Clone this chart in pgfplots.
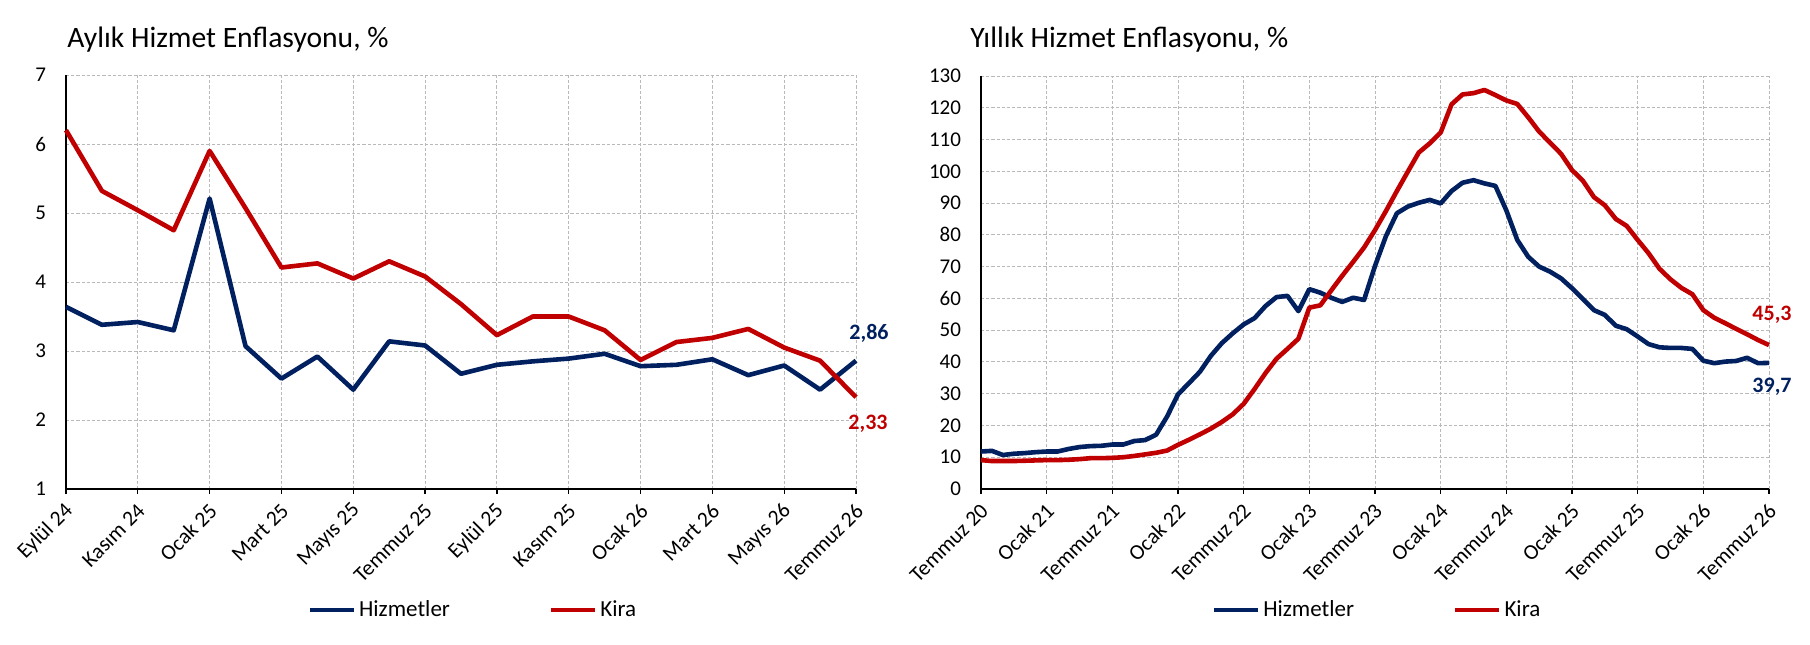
\documentclass[border=0pt]{standalone}
\usepackage{pgfplots}
\pgfplotsset{compat=1.18}
\usepackage{fontspec}
\setmainfont{Carlito}
\definecolor{navy}{HTML}{002060}
\definecolor{kred}{HTML}{C00000}
\begin{document}
\begin{tikzpicture}
\path[use as bounding box] (0,0) rectangle (905pt,322pt);
\pgfplotsset{
  common/.style={
    scale only axis,
    clip=false,
    axis x line=bottom,
    axis y line=left,
    axis line style={black, line width=0.8pt, -},
    grid=major,
    grid style={gray!55, line width=0.5pt, dash pattern=on 1.6pt off 1pt},
    /pgf/number format/assume math mode=true,
    yticklabel style={font=\fontsize{10.5}{12}\selectfont, xshift=-4pt},
    xticklabel style={font=\fontsize{10.8}{12}\selectfont, rotate=45, anchor=east, yshift=-6pt},
    ytick style={draw=none},
    xtick style={black, line width=0.6pt},
    major tick length=2.5pt,
    tick align=outside,
    legend columns=2,
    legend cell align=left,
    legend image code/.code={\draw[##1, line width=2.2pt] (0pt,0pt) -- (22pt,0pt);},
    legend style={draw=none, fill=none, anchor=west, inner sep=0pt, outer sep=0pt,
      font=\fontsize{11.5}{13}\selectfont,
      nodes={inner xsep=1.5pt, inner ysep=0pt},
      /tikz/every even column/.append style={column sep=48pt}},
  },
  blue line/.style={navy, line width=2.3pt, line join=round},
  red line/.style={kred, line width=2.3pt, line join=round},
}
\node[anchor=base west, inner sep=0pt, font=\fontsize{14.8}{16}\selectfont] at (33.5pt,298pt) {Aylık Hizmet Enflasyonu, \%};
\node[anchor=base west, inner sep=0pt, font=\fontsize{14.8}{16}\selectfont] at (485pt,298pt) {Yıllık Hizmet Enflasyonu, \%};
\begin{axis}[common,
  at={(33pt,77.5pt)}, anchor=south west,
  width=395pt, height=207pt,
  xmin=0, xmax=22, ymin=1, ymax=7,
  ytick={1,2,3,4,5,6,7},
  xtick={0,2,...,22},
  xticklabels={Eylül 24,Kasım 24,Ocak 25,Mart 25,Mayıs 25,Temmuz 25,Eylül 25,Kasım 25,Ocak 26,Mart 26,Mayıs 26,Temmuz 26},
  legend style={at={(axis description cs:0.306,-0.292)}},
]
\addplot[blue line] coordinates {
(0,3.64)(1,3.38)(2,3.42)(3,3.30)(4,5.21)(5,3.07)(6,2.60)(7,2.92)(8,2.44)(9,3.14)(10,3.08)(11,2.67)
(12,2.80)(13,2.85)(14,2.89)(15,2.96)(16,2.78)(17,2.80)(18,2.88)(19,2.65)(20,2.79)(21,2.44)(22,2.86)};
\addlegendentry{Hizmetler}
\addplot[red line] coordinates {
(0,6.20)(1,5.32)(2,5.04)(3,4.75)(4,5.90)(5,5.07)(6,4.21)(7,4.27)(8,4.05)(9,4.30)(10,4.08)(11,3.68)
(12,3.23)(13,3.50)(14,3.50)(15,3.30)(16,2.87)(17,3.13)(18,3.19)(19,3.32)(20,3.05)(21,2.86)(22,2.33)};
\addlegendentry{Kira}
\node[navy, font=\bfseries\fontsize{11}{13}\selectfont, xshift=6.5pt, yshift=13.5pt] at (axis cs:22,2.86) {2,86};
\node[kred, font=\bfseries\fontsize{11}{13}\selectfont, xshift=6pt, yshift=-13.5pt] at (axis cs:22,2.33) {2,33};
\end{axis}
\begin{axis}[common,
  at={(490.5pt,77.5pt)}, anchor=south west,
  width=394pt, height=206.5pt,
  xmin=0, xmax=72, ymin=0, ymax=130,
  ytick={0,10,...,130},
  xtick={0,6,...,72},
  xticklabels={Temmuz 20,Ocak 21,Temmuz 21,Ocak 22,Temmuz 22,Ocak 23,Temmuz 23,Ocak 24,Temmuz 24,Ocak 25,Temmuz 25,Ocak 26,Temmuz 26},
  legend style={at={(axis description cs:0.293,-0.293)}},
]
\addplot[blue line] coordinates {
(0,11.8)(1,12.0)(2,10.7)(3,11.1)(4,11.3)(5,11.6)(6,11.8)(7,11.8)(8,12.6)(9,13.2)(10,13.5)(11,13.6)
(12,14.0)(13,14.0)(14,15.1)(15,15.4)(16,17.1)(17,22.8)(18,29.8)(19,33.3)(20,36.9)(21,41.9)(22,45.9)(23,49.0)
(24,51.8)(25,53.8)(26,57.6)(27,60.4)(28,60.8)(29,56.0)(30,62.9)(31,61.8)(32,60.2)(33,58.9)(34,60.2)(35,59.5)
(36,70.2)(37,79.6)(38,86.8)(39,88.9)(40,90.1)(41,91.0)(42,89.9)(43,93.8)(44,96.4)(45,97.2)(46,96.2)(47,95.4)
(48,87.7)(49,78.4)(50,73.1)(51,70.0)(52,68.4)(53,66.3)(54,63.2)(55,59.8)(56,56.3)(57,54.8)(58,51.4)(59,50.3)
(60,48.0)(61,45.6)(62,44.6)(63,44.4)(64,44.4)(65,44.1)(66,40.4)(67,39.6)(68,40.1)(69,40.3)(70,41.3)(71,39.6)(72,39.7)};
\addlegendentry{Hizmetler}
\addplot[red line] coordinates {
(0,9.1)(1,8.8)(2,8.8)(3,8.8)(4,8.9)(5,9.0)(6,9.1)(7,9.1)(8,9.2)(9,9.4)(10,9.7)(11,9.7)
(12,9.8)(13,10.0)(14,10.4)(15,10.9)(16,11.4)(17,12.1)(18,13.9)(19,15.5)(20,17.2)(21,19.0)(22,21.1)(23,23.5)
(24,26.8)(25,31.5)(26,36.5)(27,41.0)(28,44.1)(29,47.3)(30,57.1)(31,57.8)(32,62.5)(33,67.1)(34,71.5)(35,76.0)
(36,81.5)(37,87.5)(38,93.8)(39,99.9)(40,105.9)(41,108.8)(42,112.2)(43,121.1)(44,124.2)(45,124.6)(46,125.6)(47,124.0)
(48,122.3)(49,121.2)(50,117.0)(51,112.5)(52,109.0)(53,105.5)(54,100.4)(55,97.0)(56,91.9)(57,89.3)(58,85.0)(59,82.8)
(60,78.4)(61,74.2)(62,69.3)(63,66.0)(64,63.3)(65,61.3)(66,56.3)(67,53.9)(68,52.2)(69,50.4)(70,48.7)(71,46.9)(72,45.3)};
\addlegendentry{Kira}
\node[kred, font=\bfseries\fontsize{11}{13}\selectfont, xshift=1.5pt, yshift=15pt] at (axis cs:72,45.3) {45,3};
\node[navy, font=\bfseries\fontsize{11}{13}\selectfont, xshift=1.5pt, yshift=-12pt] at (axis cs:72,39.7) {39,7};
\end{axis}
\end{tikzpicture}
\end{document}
